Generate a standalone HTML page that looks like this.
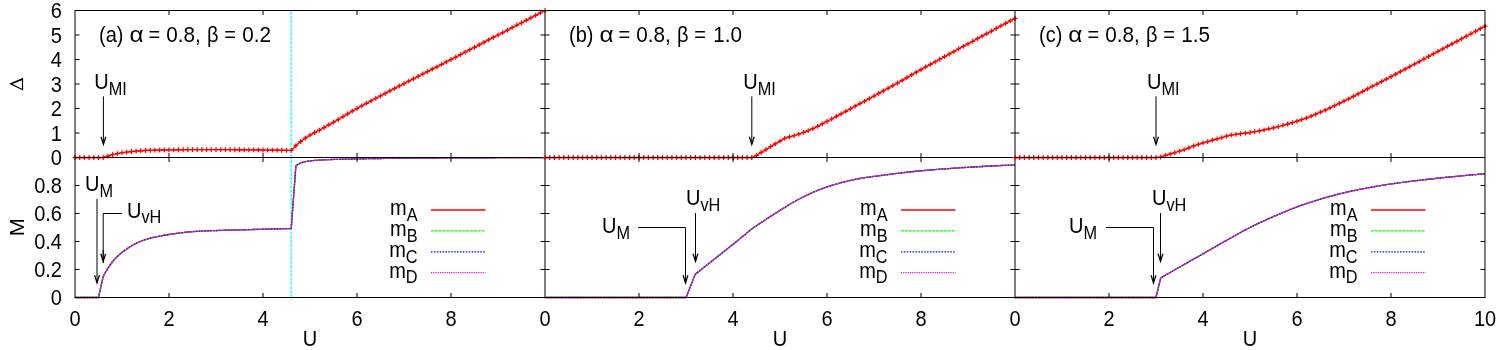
<!DOCTYPE html>
<html><head><meta charset="utf-8"><title>chart</title><style>html,body{margin:0;padding:0;background:#fff}body{width:1500px;height:350px;overflow:hidden}</style></head><body>
<svg width="1500" height="350" viewBox="0 0 1500 350" style="display:block">
<rect width="1500" height="350" fill="#fff"/>
<g font-family="'Liberation Sans', sans-serif" font-size="20" fill="#000" style="will-change:transform">
<line x1="291.20" y1="157.5" x2="291.20" y2="10.5" stroke="#00ffff" stroke-width="1.3" stroke-dasharray="2.9,1.3"/>
<polyline points="75.00,157.50 79.70,157.50 84.40,157.50 89.10,157.50 93.80,157.50 98.50,157.50 103.20,157.50 107.90,156.03 112.60,154.71 117.30,153.70 122.00,152.70 126.70,152.11 131.40,151.50 136.10,151.13 140.80,150.77 145.50,150.49 150.20,150.33 154.90,150.19 159.60,150.07 164.30,149.98 169.00,149.91 173.70,149.84 178.40,149.77 183.10,149.71 187.80,149.67 192.50,149.66 197.20,149.66 201.90,149.66 206.60,149.66 211.30,149.66 216.00,149.66 220.70,149.67 225.40,149.68 230.10,149.70 234.80,149.74 239.50,149.77 244.20,149.82 248.90,149.86 253.60,149.91 258.30,149.96 263.00,150.00 267.70,150.05 272.40,150.11 277.10,150.18 281.80,150.25 286.50,150.32 291.20,150.40 295.90,145.74 300.60,141.57 305.30,138.15 310.00,135.20 314.70,132.51 319.40,130.06 324.10,127.50 328.80,124.88 333.50,122.22 338.20,119.50 342.90,116.72 347.60,113.93 352.30,111.18 357.00,108.50 361.70,105.90 366.40,103.33 371.10,100.79 375.80,98.27 380.50,95.78 385.20,93.31 389.90,90.85 394.60,88.42 399.30,85.99 404.00,83.58 408.70,81.18 413.40,78.78 418.10,76.38 422.80,73.99 427.50,71.59 432.20,69.19 436.90,66.79 441.60,64.37 446.30,61.94 451.00,59.50 455.70,57.05 460.40,54.60 465.10,52.15 469.80,49.70 474.50,47.25 479.20,44.80 483.90,42.35 488.60,39.90 493.30,37.45 498.00,35.00 502.70,32.55 507.40,30.10 512.10,27.65 516.80,25.20 521.50,22.75 526.20,20.30 530.90,17.85 535.60,15.40 540.30,12.95 545.00,10.50" fill="none" stroke="#ff0000" stroke-width="1.35" stroke-linejoin="round"/>
<path d="M75.00 155.10v4.8M72.60 157.50h4.8M79.70 155.10v4.8M77.30 157.50h4.8M84.40 155.10v4.8M82.00 157.50h4.8M89.10 155.10v4.8M86.70 157.50h4.8M93.80 155.10v4.8M91.40 157.50h4.8M98.50 155.10v4.8M96.10 157.50h4.8M103.20 155.10v4.8M100.80 157.50h4.8M107.90 153.63v4.8M105.50 156.03h4.8M112.60 152.31v4.8M110.20 154.71h4.8M117.30 151.30v4.8M114.90 153.70h4.8M122.00 150.30v4.8M119.60 152.70h4.8M126.70 149.71v4.8M124.30 152.11h4.8M131.40 149.10v4.8M129.00 151.50h4.8M136.10 148.73v4.8M133.70 151.13h4.8M140.80 148.37v4.8M138.40 150.77h4.8M145.50 148.09v4.8M143.10 150.49h4.8M150.20 147.93v4.8M147.80 150.33h4.8M154.90 147.79v4.8M152.50 150.19h4.8M159.60 147.67v4.8M157.20 150.07h4.8M164.30 147.58v4.8M161.90 149.98h4.8M169.00 147.50v4.8M166.60 149.91h4.8M173.70 147.44v4.8M171.30 149.84h4.8M178.40 147.37v4.8M176.00 149.77h4.8M183.10 147.31v4.8M180.70 149.71h4.8M187.80 147.27v4.8M185.40 149.67h4.8M192.50 147.26v4.8M190.10 149.66h4.8M197.20 147.26v4.8M194.80 149.66h4.8M201.90 147.26v4.8M199.50 149.66h4.8M206.60 147.26v4.8M204.20 149.66h4.8M211.30 147.26v4.8M208.90 149.66h4.8M216.00 147.26v4.8M213.60 149.66h4.8M220.70 147.27v4.8M218.30 149.67h4.8M225.40 147.28v4.8M223.00 149.68h4.8M230.10 147.30v4.8M227.70 149.70h4.8M234.80 147.34v4.8M232.40 149.74h4.8M239.50 147.37v4.8M237.10 149.77h4.8M244.20 147.42v4.8M241.80 149.82h4.8M248.90 147.46v4.8M246.50 149.86h4.8M253.60 147.51v4.8M251.20 149.91h4.8M258.30 147.56v4.8M255.90 149.96h4.8M263.00 147.60v4.8M260.60 150.00h4.8M267.70 147.65v4.8M265.30 150.05h4.8M272.40 147.71v4.8M270.00 150.11h4.8M277.10 147.78v4.8M274.70 150.18h4.8M281.80 147.85v4.8M279.40 150.25h4.8M286.50 147.92v4.8M284.10 150.32h4.8M291.20 148.00v4.8M288.80 150.40h4.8M295.90 143.34v4.8M293.50 145.74h4.8M300.60 139.17v4.8M298.20 141.57h4.8M305.30 135.75v4.8M302.90 138.15h4.8M310.00 132.80v4.8M307.60 135.20h4.8M314.70 130.11v4.8M312.30 132.51h4.8M319.40 127.66v4.8M317.00 130.06h4.8M324.10 125.10v4.8M321.70 127.50h4.8M328.80 122.48v4.8M326.40 124.88h4.8M333.50 119.82v4.8M331.10 122.22h4.8M338.20 117.10v4.8M335.80 119.50h4.8M342.90 114.32v4.8M340.50 116.72h4.8M347.60 111.53v4.8M345.20 113.93h4.8M352.30 108.78v4.8M349.90 111.18h4.8M357.00 106.10v4.8M354.60 108.50h4.8M361.70 103.50v4.8M359.30 105.90h4.8M366.40 100.93v4.8M364.00 103.33h4.8M371.10 98.39v4.8M368.70 100.79h4.8M375.80 95.87v4.8M373.40 98.27h4.8M380.50 93.38v4.8M378.10 95.78h4.8M385.20 90.91v4.8M382.80 93.31h4.8M389.90 88.45v4.8M387.50 90.85h4.8M394.60 86.02v4.8M392.20 88.42h4.8M399.30 83.59v4.8M396.90 85.99h4.8M404.00 81.18v4.8M401.60 83.58h4.8M408.70 78.78v4.8M406.30 81.18h4.8M413.40 76.38v4.8M411.00 78.78h4.8M418.10 73.98v4.8M415.70 76.38h4.8M422.80 71.59v4.8M420.40 73.99h4.8M427.50 69.19v4.8M425.10 71.59h4.8M432.20 66.79v4.8M429.80 69.19h4.8M436.90 64.39v4.8M434.50 66.79h4.8M441.60 61.97v4.8M439.20 64.37h4.8M446.30 59.54v4.8M443.90 61.94h4.8M451.00 57.10v4.8M448.60 59.50h4.8M455.70 54.65v4.8M453.30 57.05h4.8M460.40 52.20v4.8M458.00 54.60h4.8M465.10 49.75v4.8M462.70 52.15h4.8M469.80 47.30v4.8M467.40 49.70h4.8M474.50 44.85v4.8M472.10 47.25h4.8M479.20 42.40v4.8M476.80 44.80h4.8M483.90 39.95v4.8M481.50 42.35h4.8M488.60 37.50v4.8M486.20 39.90h4.8M493.30 35.05v4.8M490.90 37.45h4.8M498.00 32.60v4.8M495.60 35.00h4.8M502.70 30.15v4.8M500.30 32.55h4.8M507.40 27.70v4.8M505.00 30.10h4.8M512.10 25.25v4.8M509.70 27.65h4.8M516.80 22.80v4.8M514.40 25.20h4.8M521.50 20.35v4.8M519.10 22.75h4.8M526.20 17.90v4.8M523.80 20.30h4.8M530.90 15.45v4.8M528.50 17.85h4.8M535.60 13.00v4.8M533.20 15.40h4.8M540.30 10.55v4.8M537.90 12.95h4.8M545.00 8.10v4.8M542.60 10.50h4.8" stroke="#ff0000" stroke-width="1.25" fill="none"/>
<path d="M75.0 133.0h4.5M545.0 133.0h-4.5M75.0 108.5h4.5M545.0 108.5h-4.5M75.0 84.0h4.5M545.0 84.0h-4.5M75.0 59.5h4.5M545.0 59.5h-4.5M75.0 35.0h4.5M545.0 35.0h-4.5M169.00 157.5v-4.5M169.00 10.5v4.5M263.00 157.5v-4.5M263.00 10.5v4.5M357.00 157.5v-4.5M357.00 10.5v4.5M451.00 157.5v-4.5M451.00 10.5v4.5" stroke="#000" stroke-width="1" fill="none"/>
<path d="M74.5 10.5H545.0V157.5M75.0 10.5V157.5" stroke="#000" stroke-width="1" fill="none"/>
<line x1="291.20" y1="297.5" x2="291.20" y2="157.5" stroke="#00ffff" stroke-width="1.3" stroke-dasharray="2.9,1.3"/>
<polyline points="75.00,297.50 79.70,297.50 84.40,297.50 89.10,297.50 93.80,297.50 98.50,297.50 103.20,276.50 107.90,268.10 112.60,261.50 117.30,256.47 122.00,252.37 126.70,248.90 131.40,246.00 136.10,243.44 140.80,241.24 145.50,239.54 150.20,238.22 154.90,237.09 159.60,236.11 164.30,235.26 169.00,234.50 173.70,233.80 178.40,233.13 183.10,232.53 187.80,232.01 192.50,231.60 197.20,231.32 201.90,231.08 206.60,230.88 211.30,230.70 216.00,230.54 220.70,230.40 225.40,230.27 230.10,230.14 234.80,230.01 239.50,229.88 244.20,229.75 248.90,229.62 253.60,229.49 258.30,229.36 263.00,229.24 267.70,229.13 272.40,229.02 277.10,228.91 281.80,228.81 286.50,228.71 291.20,228.62 295.90,165.76 300.60,162.96 305.30,161.70 310.00,160.86 314.70,160.44 319.40,160.10 324.10,159.84 328.80,159.63 333.50,159.46 338.20,159.31 342.90,159.19 347.60,159.08 352.30,158.99 357.00,158.90 361.70,158.81 366.40,158.72 371.10,158.64 375.80,158.56 380.50,158.48 385.20,158.41 389.90,158.34 394.60,158.29 399.30,158.24 404.00,158.20 408.70,158.17 413.40,158.14 418.10,158.11 422.80,158.07 427.50,158.05 432.20,158.02 436.90,157.99 441.60,157.96 446.30,157.94 451.00,157.91 455.70,157.89 460.40,157.86 465.10,157.84 469.80,157.82 474.50,157.80 479.20,157.78 483.90,157.76 488.60,157.74 493.30,157.73 498.00,157.71 502.70,157.70 507.40,157.69 512.10,157.68 516.80,157.67 521.50,157.66 526.20,157.65 530.90,157.65 535.60,157.64 540.30,157.64 545.00,157.64" fill="none" stroke="#ff0000" stroke-width="1.30" stroke-linejoin="round"/>
<polyline points="75.00,297.50 79.70,297.50 84.40,297.50 89.10,297.50 93.80,297.50 98.50,297.50 103.20,276.50 107.90,268.10 112.60,261.50 117.30,256.47 122.00,252.37 126.70,248.90 131.40,246.00 136.10,243.44 140.80,241.24 145.50,239.54 150.20,238.22 154.90,237.09 159.60,236.11 164.30,235.26 169.00,234.50 173.70,233.80 178.40,233.13 183.10,232.53 187.80,232.01 192.50,231.60 197.20,231.32 201.90,231.08 206.60,230.88 211.30,230.70 216.00,230.54 220.70,230.40 225.40,230.27 230.10,230.14 234.80,230.01 239.50,229.88 244.20,229.75 248.90,229.62 253.60,229.49 258.30,229.36 263.00,229.24 267.70,229.13 272.40,229.02 277.10,228.91 281.80,228.81 286.50,228.71 291.20,228.62 295.90,165.76 300.60,162.96 305.30,161.70 310.00,160.86 314.70,160.44 319.40,160.10 324.10,159.84 328.80,159.63 333.50,159.46 338.20,159.31 342.90,159.19 347.60,159.08 352.30,158.99 357.00,158.90 361.70,158.81 366.40,158.72 371.10,158.64 375.80,158.56 380.50,158.48 385.20,158.41 389.90,158.34 394.60,158.29 399.30,158.24 404.00,158.20 408.70,158.17 413.40,158.14 418.10,158.11 422.80,158.07 427.50,158.05 432.20,158.02 436.90,157.99 441.60,157.96 446.30,157.94 451.00,157.91 455.70,157.89 460.40,157.86 465.10,157.84 469.80,157.82 474.50,157.80 479.20,157.78 483.90,157.76 488.60,157.74 493.30,157.73 498.00,157.71 502.70,157.70 507.40,157.69 512.10,157.68 516.80,157.67 521.50,157.66 526.20,157.65 530.90,157.65 535.60,157.64 540.30,157.64 545.00,157.64" fill="none" stroke="#00ff00" stroke-width="1.30" stroke-dasharray="2.9,1.0" stroke-linejoin="round"/>
<polyline points="75.00,297.50 79.70,297.50 84.40,297.50 89.10,297.50 93.80,297.50 98.50,297.50 103.20,276.50 107.90,268.10 112.60,261.50 117.30,256.47 122.00,252.37 126.70,248.90 131.40,246.00 136.10,243.44 140.80,241.24 145.50,239.54 150.20,238.22 154.90,237.09 159.60,236.11 164.30,235.26 169.00,234.50 173.70,233.80 178.40,233.13 183.10,232.53 187.80,232.01 192.50,231.60 197.20,231.32 201.90,231.08 206.60,230.88 211.30,230.70 216.00,230.54 220.70,230.40 225.40,230.27 230.10,230.14 234.80,230.01 239.50,229.88 244.20,229.75 248.90,229.62 253.60,229.49 258.30,229.36 263.00,229.24 267.70,229.13 272.40,229.02 277.10,228.91 281.80,228.81 286.50,228.71 291.20,228.62 295.90,165.76 300.60,162.96 305.30,161.70 310.00,160.86 314.70,160.44 319.40,160.10 324.10,159.84 328.80,159.63 333.50,159.46 338.20,159.31 342.90,159.19 347.60,159.08 352.30,158.99 357.00,158.90 361.70,158.81 366.40,158.72 371.10,158.64 375.80,158.56 380.50,158.48 385.20,158.41 389.90,158.34 394.60,158.29 399.30,158.24 404.00,158.20 408.70,158.17 413.40,158.14 418.10,158.11 422.80,158.07 427.50,158.05 432.20,158.02 436.90,157.99 441.60,157.96 446.30,157.94 451.00,157.91 455.70,157.89 460.40,157.86 465.10,157.84 469.80,157.82 474.50,157.80 479.20,157.78 483.90,157.76 488.60,157.74 493.30,157.73 498.00,157.71 502.70,157.70 507.40,157.69 512.10,157.68 516.80,157.67 521.50,157.66 526.20,157.65 530.90,157.65 535.60,157.64 540.30,157.64 545.00,157.64" fill="none" stroke="#0000ff" stroke-width="1.30" stroke-dasharray="1.5,1.4" stroke-linejoin="round"/>
<polyline points="75.00,297.50 79.70,297.50 84.40,297.50 89.10,297.50 93.80,297.50 98.50,297.50 103.20,276.50 107.90,268.10 112.60,261.50 117.30,256.47 122.00,252.37 126.70,248.90 131.40,246.00 136.10,243.44 140.80,241.24 145.50,239.54 150.20,238.22 154.90,237.09 159.60,236.11 164.30,235.26 169.00,234.50 173.70,233.80 178.40,233.13 183.10,232.53 187.80,232.01 192.50,231.60 197.20,231.32 201.90,231.08 206.60,230.88 211.30,230.70 216.00,230.54 220.70,230.40 225.40,230.27 230.10,230.14 234.80,230.01 239.50,229.88 244.20,229.75 248.90,229.62 253.60,229.49 258.30,229.36 263.00,229.24 267.70,229.13 272.40,229.02 277.10,228.91 281.80,228.81 286.50,228.71 291.20,228.62 295.90,165.76 300.60,162.96 305.30,161.70 310.00,160.86 314.70,160.44 319.40,160.10 324.10,159.84 328.80,159.63 333.50,159.46 338.20,159.31 342.90,159.19 347.60,159.08 352.30,158.99 357.00,158.90 361.70,158.81 366.40,158.72 371.10,158.64 375.80,158.56 380.50,158.48 385.20,158.41 389.90,158.34 394.60,158.29 399.30,158.24 404.00,158.20 408.70,158.17 413.40,158.14 418.10,158.11 422.80,158.07 427.50,158.05 432.20,158.02 436.90,157.99 441.60,157.96 446.30,157.94 451.00,157.91 455.70,157.89 460.40,157.86 465.10,157.84 469.80,157.82 474.50,157.80 479.20,157.78 483.90,157.76 488.60,157.74 493.30,157.73 498.00,157.71 502.70,157.70 507.40,157.69 512.10,157.68 516.80,157.67 521.50,157.66 526.20,157.65 530.90,157.65 535.60,157.64 540.30,157.64 545.00,157.64" fill="none" stroke="#ff00ff" stroke-width="1.30" stroke-dasharray="1,0.8" stroke-linejoin="round"/>
<line x1="431.0" y1="210.0" x2="485.5" y2="210.0" stroke="#ff0000" stroke-width="1.30"/>
<line x1="431.0" y1="230.9" x2="485.5" y2="230.9" stroke="#00ff00" stroke-width="1.30" stroke-dasharray="2.9,1.0"/>
<line x1="431.0" y1="251.8" x2="485.5" y2="251.8" stroke="#0000ff" stroke-width="1.30" stroke-dasharray="1.5,1.4"/>
<line x1="431.0" y1="272.6" x2="485.5" y2="272.6" stroke="#ff00ff" stroke-width="1.30" stroke-dasharray="1,0.8"/>
<path d="M75.0 269.5h4.5M545.0 269.5h-4.5M75.0 241.5h4.5M545.0 241.5h-4.5M75.0 213.5h4.5M545.0 213.5h-4.5M75.0 185.5h4.5M545.0 185.5h-4.5M169.00 297.5v-4.5M169.00 157.5v4.5M263.00 297.5v-4.5M263.00 157.5v4.5M357.00 297.5v-4.5M357.00 157.5v4.5M451.00 297.5v-4.5M451.00 157.5v4.5" stroke="#000" stroke-width="1" fill="none"/>
<path d="M74.5 157.5H545.0M74.5 297.5H545.0M545.0 157.5V297.5M75.0 157.5V297.5" stroke="#000" stroke-width="1" fill="none"/>
<polyline points="545.00,157.50 549.70,157.50 554.40,157.50 559.10,157.50 563.80,157.50 568.50,157.50 573.20,157.50 577.90,157.50 582.60,157.50 587.30,157.50 592.00,157.50 596.70,157.50 601.40,157.50 606.10,157.50 610.80,157.50 615.50,157.50 620.20,157.50 624.90,157.50 629.60,157.50 634.30,157.50 639.00,157.50 643.70,157.50 648.40,157.50 653.10,157.50 657.80,157.50 662.50,157.50 667.20,157.50 671.90,157.50 676.60,157.50 681.30,157.50 686.00,157.50 690.70,157.50 695.40,157.50 700.10,157.50 704.80,157.50 709.50,157.50 714.20,157.50 718.90,157.50 723.60,157.50 728.30,157.50 733.00,157.50 737.70,157.50 742.40,157.50 747.10,157.50 751.80,157.50 756.50,155.29 761.20,152.48 765.90,149.66 770.60,146.72 775.30,143.90 780.00,141.09 784.70,138.39 789.40,136.92 794.10,135.57 798.80,134.03 803.50,132.39 808.20,130.55 812.90,128.59 817.60,126.39 822.30,123.94 827.00,121.48 831.70,118.98 836.40,116.43 841.10,113.87 845.80,111.30 850.50,108.75 855.20,106.20 859.90,103.66 864.60,101.12 869.30,98.57 874.00,96.00 878.70,93.43 883.40,90.85 888.10,88.26 892.80,85.65 897.50,83.02 902.20,80.35 906.90,77.64 911.60,74.92 916.30,72.21 921.00,69.55 925.70,66.93 930.40,64.35 935.10,61.78 939.80,59.23 944.50,56.67 949.20,54.11 953.90,51.54 958.60,48.96 963.30,46.39 968.00,43.82 972.70,41.26 977.40,38.70 982.10,36.14 986.80,33.59 991.50,31.04 996.20,28.49 1000.90,25.95 1005.60,23.41 1010.30,20.87 1015.00,18.34" fill="none" stroke="#ff0000" stroke-width="1.35" stroke-linejoin="round"/>
<path d="M545.00 155.10v4.8M542.60 157.50h4.8M549.70 155.10v4.8M547.30 157.50h4.8M554.40 155.10v4.8M552.00 157.50h4.8M559.10 155.10v4.8M556.70 157.50h4.8M563.80 155.10v4.8M561.40 157.50h4.8M568.50 155.10v4.8M566.10 157.50h4.8M573.20 155.10v4.8M570.80 157.50h4.8M577.90 155.10v4.8M575.50 157.50h4.8M582.60 155.10v4.8M580.20 157.50h4.8M587.30 155.10v4.8M584.90 157.50h4.8M592.00 155.10v4.8M589.60 157.50h4.8M596.70 155.10v4.8M594.30 157.50h4.8M601.40 155.10v4.8M599.00 157.50h4.8M606.10 155.10v4.8M603.70 157.50h4.8M610.80 155.10v4.8M608.40 157.50h4.8M615.50 155.10v4.8M613.10 157.50h4.8M620.20 155.10v4.8M617.80 157.50h4.8M624.90 155.10v4.8M622.50 157.50h4.8M629.60 155.10v4.8M627.20 157.50h4.8M634.30 155.10v4.8M631.90 157.50h4.8M639.00 155.10v4.8M636.60 157.50h4.8M643.70 155.10v4.8M641.30 157.50h4.8M648.40 155.10v4.8M646.00 157.50h4.8M653.10 155.10v4.8M650.70 157.50h4.8M657.80 155.10v4.8M655.40 157.50h4.8M662.50 155.10v4.8M660.10 157.50h4.8M667.20 155.10v4.8M664.80 157.50h4.8M671.90 155.10v4.8M669.50 157.50h4.8M676.60 155.10v4.8M674.20 157.50h4.8M681.30 155.10v4.8M678.90 157.50h4.8M686.00 155.10v4.8M683.60 157.50h4.8M690.70 155.10v4.8M688.30 157.50h4.8M695.40 155.10v4.8M693.00 157.50h4.8M700.10 155.10v4.8M697.70 157.50h4.8M704.80 155.10v4.8M702.40 157.50h4.8M709.50 155.10v4.8M707.10 157.50h4.8M714.20 155.10v4.8M711.80 157.50h4.8M718.90 155.10v4.8M716.50 157.50h4.8M723.60 155.10v4.8M721.20 157.50h4.8M728.30 155.10v4.8M725.90 157.50h4.8M733.00 155.10v4.8M730.60 157.50h4.8M737.70 155.10v4.8M735.30 157.50h4.8M742.40 155.10v4.8M740.00 157.50h4.8M747.10 155.10v4.8M744.70 157.50h4.8M751.80 155.10v4.8M749.40 157.50h4.8M756.50 152.89v4.8M754.10 155.29h4.8M761.20 150.08v4.8M758.80 152.48h4.8M765.90 147.26v4.8M763.50 149.66h4.8M770.60 144.32v4.8M768.20 146.72h4.8M775.30 141.50v4.8M772.90 143.90h4.8M780.00 138.69v4.8M777.60 141.09h4.8M784.70 135.99v4.8M782.30 138.39h4.8M789.40 134.52v4.8M787.00 136.92h4.8M794.10 133.17v4.8M791.70 135.57h4.8M798.80 131.63v4.8M796.40 134.03h4.8M803.50 129.99v4.8M801.10 132.39h4.8M808.20 128.15v4.8M805.80 130.55h4.8M812.90 126.19v4.8M810.50 128.59h4.8M817.60 123.98v4.8M815.20 126.39h4.8M822.30 121.53v4.8M819.90 123.94h4.8M827.00 119.08v4.8M824.60 121.48h4.8M831.70 116.58v4.8M829.30 118.98h4.8M836.40 114.03v4.8M834.00 116.43h4.8M841.10 111.47v4.8M838.70 113.87h4.8M845.80 108.90v4.8M843.40 111.30h4.8M850.50 106.34v4.8M848.10 108.75h4.8M855.20 103.80v4.8M852.80 106.20h4.8M859.90 101.26v4.8M857.50 103.66h4.8M864.60 98.72v4.8M862.20 101.12h4.8M869.30 96.17v4.8M866.90 98.57h4.8M874.00 93.60v4.8M871.60 96.00h4.8M878.70 91.03v4.8M876.30 93.43h4.8M883.40 88.45v4.8M881.00 90.85h4.8M888.10 85.86v4.8M885.70 88.26h4.8M892.80 83.25v4.8M890.40 85.65h4.8M897.50 80.62v4.8M895.10 83.02h4.8M902.20 77.95v4.8M899.80 80.35h4.8M906.90 75.24v4.8M904.50 77.64h4.8M911.60 72.52v4.8M909.20 74.92h4.8M916.30 69.81v4.8M913.90 72.21h4.8M921.00 67.14v4.8M918.60 69.55h4.8M925.70 64.53v4.8M923.30 66.93h4.8M930.40 61.95v4.8M928.00 64.35h4.8M935.10 59.38v4.8M932.70 61.78h4.8M939.80 56.83v4.8M937.40 59.23h4.8M944.50 54.27v4.8M942.10 56.67h4.8M949.20 51.71v4.8M946.80 54.11h4.8M953.90 49.14v4.8M951.50 51.54h4.8M958.60 46.56v4.8M956.20 48.96h4.8M963.30 43.99v4.8M960.90 46.39h4.8M968.00 41.42v4.8M965.60 43.82h4.8M972.70 38.86v4.8M970.30 41.26h4.8M977.40 36.30v4.8M975.00 38.70h4.8M982.10 33.74v4.8M979.70 36.14h4.8M986.80 31.19v4.8M984.40 33.59h4.8M991.50 28.64v4.8M989.10 31.04h4.8M996.20 26.09v4.8M993.80 28.49h4.8M1000.90 23.55v4.8M998.50 25.95h4.8M1005.60 21.01v4.8M1003.20 23.41h4.8M1010.30 18.47v4.8M1007.90 20.87h4.8M1015.00 15.94v4.8M1012.60 18.34h4.8" stroke="#ff0000" stroke-width="1.25" fill="none"/>
<path d="M545.0 133.0h4.5M1015.0 133.0h-4.5M545.0 108.5h4.5M1015.0 108.5h-4.5M545.0 84.0h4.5M1015.0 84.0h-4.5M545.0 59.5h4.5M1015.0 59.5h-4.5M545.0 35.0h4.5M1015.0 35.0h-4.5M639.00 157.5v-4.5M639.00 10.5v4.5M733.00 157.5v-4.5M733.00 10.5v4.5M827.00 157.5v-4.5M827.00 10.5v4.5M921.00 157.5v-4.5M921.00 10.5v4.5" stroke="#000" stroke-width="1" fill="none"/>
<path d="M545.0 10.5H1015.0V157.5" stroke="#000" stroke-width="1" fill="none"/>
<polyline points="545.00,297.50 549.70,297.50 554.40,297.50 559.10,297.50 563.80,297.50 568.50,297.50 573.20,297.50 577.90,297.50 582.60,297.50 587.30,297.50 592.00,297.50 596.70,297.50 601.40,297.50 606.10,297.50 610.80,297.50 615.50,297.50 620.20,297.50 624.90,297.50 629.60,297.50 634.30,297.50 639.00,297.50 643.70,297.50 648.40,297.50 653.10,297.50 657.80,297.50 662.50,297.50 667.20,297.50 671.90,297.50 676.60,297.50 681.30,297.50 686.00,297.50 690.70,285.81 695.40,274.12 700.10,270.38 704.80,266.65 709.50,262.92 714.20,259.20 718.90,255.50 723.60,251.79 728.30,248.06 733.00,244.30 737.70,240.50 742.40,236.66 747.10,232.79 751.80,228.90 756.50,225.70 761.20,222.55 765.90,219.45 770.60,216.39 775.30,213.38 780.00,210.42 784.70,207.44 789.40,204.50 794.10,201.73 798.80,199.23 803.50,196.85 808.20,194.57 812.90,192.40 817.60,190.38 822.30,188.54 827.00,186.90 831.70,185.42 836.40,184.02 841.10,182.73 845.80,181.52 850.50,180.41 855.20,179.41 859.90,178.50 864.60,177.72 869.30,177.04 874.00,176.40 878.70,175.77 883.40,175.14 888.10,174.53 892.80,173.93 897.50,173.34 902.20,172.78 906.90,172.24 911.60,171.73 916.30,171.25 921.00,170.80 925.70,170.38 930.40,169.98 935.10,169.59 939.80,169.22 944.50,168.87 949.20,168.53 953.90,168.20 958.60,167.89 963.30,167.59 968.00,167.30 972.70,167.02 977.40,166.75 982.10,166.48 986.80,166.23 991.50,165.98 996.20,165.75 1000.90,165.52 1005.60,165.31 1010.30,165.11 1015.00,164.92" fill="none" stroke="#ff0000" stroke-width="1.30" stroke-linejoin="round"/>
<polyline points="545.00,297.50 549.70,297.50 554.40,297.50 559.10,297.50 563.80,297.50 568.50,297.50 573.20,297.50 577.90,297.50 582.60,297.50 587.30,297.50 592.00,297.50 596.70,297.50 601.40,297.50 606.10,297.50 610.80,297.50 615.50,297.50 620.20,297.50 624.90,297.50 629.60,297.50 634.30,297.50 639.00,297.50 643.70,297.50 648.40,297.50 653.10,297.50 657.80,297.50 662.50,297.50 667.20,297.50 671.90,297.50 676.60,297.50 681.30,297.50 686.00,297.50 690.70,285.81 695.40,274.12 700.10,270.38 704.80,266.65 709.50,262.92 714.20,259.20 718.90,255.50 723.60,251.79 728.30,248.06 733.00,244.30 737.70,240.50 742.40,236.66 747.10,232.79 751.80,228.90 756.50,225.70 761.20,222.55 765.90,219.45 770.60,216.39 775.30,213.38 780.00,210.42 784.70,207.44 789.40,204.50 794.10,201.73 798.80,199.23 803.50,196.85 808.20,194.57 812.90,192.40 817.60,190.38 822.30,188.54 827.00,186.90 831.70,185.42 836.40,184.02 841.10,182.73 845.80,181.52 850.50,180.41 855.20,179.41 859.90,178.50 864.60,177.72 869.30,177.04 874.00,176.40 878.70,175.77 883.40,175.14 888.10,174.53 892.80,173.93 897.50,173.34 902.20,172.78 906.90,172.24 911.60,171.73 916.30,171.25 921.00,170.80 925.70,170.38 930.40,169.98 935.10,169.59 939.80,169.22 944.50,168.87 949.20,168.53 953.90,168.20 958.60,167.89 963.30,167.59 968.00,167.30 972.70,167.02 977.40,166.75 982.10,166.48 986.80,166.23 991.50,165.98 996.20,165.75 1000.90,165.52 1005.60,165.31 1010.30,165.11 1015.00,164.92" fill="none" stroke="#00ff00" stroke-width="1.30" stroke-dasharray="2.9,1.0" stroke-linejoin="round"/>
<polyline points="545.00,297.50 549.70,297.50 554.40,297.50 559.10,297.50 563.80,297.50 568.50,297.50 573.20,297.50 577.90,297.50 582.60,297.50 587.30,297.50 592.00,297.50 596.70,297.50 601.40,297.50 606.10,297.50 610.80,297.50 615.50,297.50 620.20,297.50 624.90,297.50 629.60,297.50 634.30,297.50 639.00,297.50 643.70,297.50 648.40,297.50 653.10,297.50 657.80,297.50 662.50,297.50 667.20,297.50 671.90,297.50 676.60,297.50 681.30,297.50 686.00,297.50 690.70,285.81 695.40,274.12 700.10,270.38 704.80,266.65 709.50,262.92 714.20,259.20 718.90,255.50 723.60,251.79 728.30,248.06 733.00,244.30 737.70,240.50 742.40,236.66 747.10,232.79 751.80,228.90 756.50,225.70 761.20,222.55 765.90,219.45 770.60,216.39 775.30,213.38 780.00,210.42 784.70,207.44 789.40,204.50 794.10,201.73 798.80,199.23 803.50,196.85 808.20,194.57 812.90,192.40 817.60,190.38 822.30,188.54 827.00,186.90 831.70,185.42 836.40,184.02 841.10,182.73 845.80,181.52 850.50,180.41 855.20,179.41 859.90,178.50 864.60,177.72 869.30,177.04 874.00,176.40 878.70,175.77 883.40,175.14 888.10,174.53 892.80,173.93 897.50,173.34 902.20,172.78 906.90,172.24 911.60,171.73 916.30,171.25 921.00,170.80 925.70,170.38 930.40,169.98 935.10,169.59 939.80,169.22 944.50,168.87 949.20,168.53 953.90,168.20 958.60,167.89 963.30,167.59 968.00,167.30 972.70,167.02 977.40,166.75 982.10,166.48 986.80,166.23 991.50,165.98 996.20,165.75 1000.90,165.52 1005.60,165.31 1010.30,165.11 1015.00,164.92" fill="none" stroke="#0000ff" stroke-width="1.30" stroke-dasharray="1.5,1.4" stroke-linejoin="round"/>
<polyline points="545.00,297.50 549.70,297.50 554.40,297.50 559.10,297.50 563.80,297.50 568.50,297.50 573.20,297.50 577.90,297.50 582.60,297.50 587.30,297.50 592.00,297.50 596.70,297.50 601.40,297.50 606.10,297.50 610.80,297.50 615.50,297.50 620.20,297.50 624.90,297.50 629.60,297.50 634.30,297.50 639.00,297.50 643.70,297.50 648.40,297.50 653.10,297.50 657.80,297.50 662.50,297.50 667.20,297.50 671.90,297.50 676.60,297.50 681.30,297.50 686.00,297.50 690.70,285.81 695.40,274.12 700.10,270.38 704.80,266.65 709.50,262.92 714.20,259.20 718.90,255.50 723.60,251.79 728.30,248.06 733.00,244.30 737.70,240.50 742.40,236.66 747.10,232.79 751.80,228.90 756.50,225.70 761.20,222.55 765.90,219.45 770.60,216.39 775.30,213.38 780.00,210.42 784.70,207.44 789.40,204.50 794.10,201.73 798.80,199.23 803.50,196.85 808.20,194.57 812.90,192.40 817.60,190.38 822.30,188.54 827.00,186.90 831.70,185.42 836.40,184.02 841.10,182.73 845.80,181.52 850.50,180.41 855.20,179.41 859.90,178.50 864.60,177.72 869.30,177.04 874.00,176.40 878.70,175.77 883.40,175.14 888.10,174.53 892.80,173.93 897.50,173.34 902.20,172.78 906.90,172.24 911.60,171.73 916.30,171.25 921.00,170.80 925.70,170.38 930.40,169.98 935.10,169.59 939.80,169.22 944.50,168.87 949.20,168.53 953.90,168.20 958.60,167.89 963.30,167.59 968.00,167.30 972.70,167.02 977.40,166.75 982.10,166.48 986.80,166.23 991.50,165.98 996.20,165.75 1000.90,165.52 1005.60,165.31 1010.30,165.11 1015.00,164.92" fill="none" stroke="#ff00ff" stroke-width="1.30" stroke-dasharray="1,0.8" stroke-linejoin="round"/>
<line x1="901.0" y1="210.0" x2="955.5" y2="210.0" stroke="#ff0000" stroke-width="1.30"/>
<line x1="901.0" y1="230.9" x2="955.5" y2="230.9" stroke="#00ff00" stroke-width="1.30" stroke-dasharray="2.9,1.0"/>
<line x1="901.0" y1="251.8" x2="955.5" y2="251.8" stroke="#0000ff" stroke-width="1.30" stroke-dasharray="1.5,1.4"/>
<line x1="901.0" y1="272.6" x2="955.5" y2="272.6" stroke="#ff00ff" stroke-width="1.30" stroke-dasharray="1,0.8"/>
<path d="M545.0 269.5h4.5M1015.0 269.5h-4.5M545.0 241.5h4.5M1015.0 241.5h-4.5M545.0 213.5h4.5M1015.0 213.5h-4.5M545.0 185.5h4.5M1015.0 185.5h-4.5M639.00 297.5v-4.5M639.00 157.5v4.5M733.00 297.5v-4.5M733.00 157.5v4.5M827.00 297.5v-4.5M827.00 157.5v4.5M921.00 297.5v-4.5M921.00 157.5v4.5" stroke="#000" stroke-width="1" fill="none"/>
<path d="M545.0 157.5H1015.0M545.0 297.5H1015.0M1015.0 157.5V297.5" stroke="#000" stroke-width="1" fill="none"/>
<polyline points="1015.00,157.50 1019.70,157.50 1024.40,157.50 1029.10,157.50 1033.80,157.50 1038.50,157.50 1043.20,157.50 1047.90,157.50 1052.60,157.50 1057.30,157.50 1062.00,157.50 1066.70,157.50 1071.40,157.50 1076.10,157.50 1080.80,157.50 1085.50,157.50 1090.20,157.50 1094.90,157.50 1099.60,157.50 1104.30,157.50 1109.00,157.50 1113.70,157.50 1118.40,157.50 1123.10,157.50 1127.80,157.50 1132.50,157.50 1137.20,157.50 1141.90,157.50 1146.60,157.50 1151.30,157.50 1156.00,157.50 1160.70,157.01 1165.40,155.42 1170.10,154.07 1174.80,152.60 1179.50,151.13 1184.20,149.54 1188.90,147.82 1193.60,145.99 1198.30,144.39 1203.00,142.92 1207.70,141.57 1212.40,140.23 1217.10,138.88 1221.80,137.53 1226.50,136.19 1231.20,135.08 1235.90,134.32 1240.60,133.74 1245.30,133.15 1250.00,132.51 1254.70,131.70 1259.40,130.79 1264.10,129.87 1268.80,128.91 1273.50,127.86 1278.20,126.66 1282.90,125.35 1287.60,124.01 1292.30,122.66 1297.00,121.24 1301.70,119.71 1306.40,118.06 1311.10,116.21 1315.80,114.23 1320.50,112.18 1325.20,110.08 1329.90,107.92 1334.60,105.71 1339.30,103.45 1344.00,101.15 1348.70,98.78 1353.40,96.34 1358.10,93.86 1362.80,91.37 1367.50,88.90 1372.20,86.46 1376.90,84.02 1381.60,81.57 1386.30,79.12 1391.00,76.65 1395.70,74.16 1400.40,71.66 1405.10,69.14 1409.80,66.62 1414.50,64.08 1419.20,61.55 1423.90,59.01 1428.60,56.48 1433.30,53.94 1438.00,51.42 1442.70,48.89 1447.40,46.37 1452.10,43.84 1456.80,41.32 1461.50,38.80 1466.20,36.27 1470.90,33.75 1475.60,31.23 1480.30,28.70 1485.00,26.18" fill="none" stroke="#ff0000" stroke-width="1.35" stroke-linejoin="round"/>
<path d="M1015.00 155.10v4.8M1012.60 157.50h4.8M1019.70 155.10v4.8M1017.30 157.50h4.8M1024.40 155.10v4.8M1022.00 157.50h4.8M1029.10 155.10v4.8M1026.70 157.50h4.8M1033.80 155.10v4.8M1031.40 157.50h4.8M1038.50 155.10v4.8M1036.10 157.50h4.8M1043.20 155.10v4.8M1040.80 157.50h4.8M1047.90 155.10v4.8M1045.50 157.50h4.8M1052.60 155.10v4.8M1050.20 157.50h4.8M1057.30 155.10v4.8M1054.90 157.50h4.8M1062.00 155.10v4.8M1059.60 157.50h4.8M1066.70 155.10v4.8M1064.30 157.50h4.8M1071.40 155.10v4.8M1069.00 157.50h4.8M1076.10 155.10v4.8M1073.70 157.50h4.8M1080.80 155.10v4.8M1078.40 157.50h4.8M1085.50 155.10v4.8M1083.10 157.50h4.8M1090.20 155.10v4.8M1087.80 157.50h4.8M1094.90 155.10v4.8M1092.50 157.50h4.8M1099.60 155.10v4.8M1097.20 157.50h4.8M1104.30 155.10v4.8M1101.90 157.50h4.8M1109.00 155.10v4.8M1106.60 157.50h4.8M1113.70 155.10v4.8M1111.30 157.50h4.8M1118.40 155.10v4.8M1116.00 157.50h4.8M1123.10 155.10v4.8M1120.70 157.50h4.8M1127.80 155.10v4.8M1125.40 157.50h4.8M1132.50 155.10v4.8M1130.10 157.50h4.8M1137.20 155.10v4.8M1134.80 157.50h4.8M1141.90 155.10v4.8M1139.50 157.50h4.8M1146.60 155.10v4.8M1144.20 157.50h4.8M1151.30 155.10v4.8M1148.90 157.50h4.8M1156.00 155.10v4.8M1153.60 157.50h4.8M1160.70 154.61v4.8M1158.30 157.01h4.8M1165.40 153.02v4.8M1163.00 155.42h4.8M1170.10 151.67v4.8M1167.70 154.07h4.8M1174.80 150.20v4.8M1172.40 152.60h4.8M1179.50 148.73v4.8M1177.10 151.13h4.8M1184.20 147.14v4.8M1181.80 149.54h4.8M1188.90 145.42v4.8M1186.50 147.82h4.8M1193.60 143.59v4.8M1191.20 145.99h4.8M1198.30 141.99v4.8M1195.90 144.39h4.8M1203.00 140.52v4.8M1200.60 142.92h4.8M1207.70 139.17v4.8M1205.30 141.57h4.8M1212.40 137.83v4.8M1210.00 140.23h4.8M1217.10 136.48v4.8M1214.70 138.88h4.8M1221.80 135.13v4.8M1219.40 137.53h4.8M1226.50 133.78v4.8M1224.10 136.19h4.8M1231.20 132.68v4.8M1228.80 135.08h4.8M1235.90 131.92v4.8M1233.50 134.32h4.8M1240.60 131.34v4.8M1238.20 133.74h4.8M1245.30 130.75v4.8M1242.90 133.15h4.8M1250.00 130.11v4.8M1247.60 132.51h4.8M1254.70 129.30v4.8M1252.30 131.70h4.8M1259.40 128.39v4.8M1257.00 130.79h4.8M1264.10 127.47v4.8M1261.70 129.87h4.8M1268.80 126.51v4.8M1266.40 128.91h4.8M1273.50 125.45v4.8M1271.10 127.86h4.8M1278.20 124.26v4.8M1275.80 126.66h4.8M1282.90 122.95v4.8M1280.50 125.35h4.8M1287.60 121.61v4.8M1285.20 124.01h4.8M1292.30 120.26v4.8M1289.90 122.66h4.8M1297.00 118.84v4.8M1294.60 121.24h4.8M1301.70 117.31v4.8M1299.30 119.71h4.8M1306.40 115.66v4.8M1304.00 118.06h4.8M1311.10 113.81v4.8M1308.70 116.21h4.8M1315.80 111.83v4.8M1313.40 114.23h4.8M1320.50 109.78v4.8M1318.10 112.18h4.8M1325.20 107.68v4.8M1322.80 110.08h4.8M1329.90 105.52v4.8M1327.50 107.92h4.8M1334.60 103.31v4.8M1332.20 105.71h4.8M1339.30 101.05v4.8M1336.90 103.45h4.8M1344.00 98.75v4.8M1341.60 101.15h4.8M1348.70 96.38v4.8M1346.30 98.78h4.8M1353.40 93.94v4.8M1351.00 96.34h4.8M1358.10 91.46v4.8M1355.70 93.86h4.8M1362.80 88.97v4.8M1360.40 91.37h4.8M1367.50 86.50v4.8M1365.10 88.90h4.8M1372.20 84.06v4.8M1369.80 86.46h4.8M1376.90 81.62v4.8M1374.50 84.02h4.8M1381.60 79.17v4.8M1379.20 81.57h4.8M1386.30 76.72v4.8M1383.90 79.12h4.8M1391.00 74.25v4.8M1388.60 76.65h4.8M1395.70 71.76v4.8M1393.30 74.16h4.8M1400.40 69.26v4.8M1398.00 71.66h4.8M1405.10 66.74v4.8M1402.70 69.14h4.8M1409.80 64.22v4.8M1407.40 66.62h4.8M1414.50 61.68v4.8M1412.10 64.08h4.8M1419.20 59.15v4.8M1416.80 61.55h4.8M1423.90 56.61v4.8M1421.50 59.01h4.8M1428.60 54.08v4.8M1426.20 56.48h4.8M1433.30 51.54v4.8M1430.90 53.94h4.8M1438.00 49.02v4.8M1435.60 51.42h4.8M1442.70 46.49v4.8M1440.30 48.89h4.8M1447.40 43.97v4.8M1445.00 46.37h4.8M1452.10 41.44v4.8M1449.70 43.84h4.8M1456.80 38.92v4.8M1454.40 41.32h4.8M1461.50 36.40v4.8M1459.10 38.80h4.8M1466.20 33.87v4.8M1463.80 36.27h4.8M1470.90 31.35v4.8M1468.50 33.75h4.8M1475.60 28.83v4.8M1473.20 31.23h4.8M1480.30 26.30v4.8M1477.90 28.70h4.8M1485.00 23.78v4.8M1482.60 26.18h4.8" stroke="#ff0000" stroke-width="1.25" fill="none"/>
<path d="M1015.0 133.0h4.5M1485.0 133.0h-4.5M1015.0 108.5h4.5M1485.0 108.5h-4.5M1015.0 84.0h4.5M1485.0 84.0h-4.5M1015.0 59.5h4.5M1485.0 59.5h-4.5M1015.0 35.0h4.5M1485.0 35.0h-4.5M1109.00 157.5v-4.5M1109.00 10.5v4.5M1203.00 157.5v-4.5M1203.00 10.5v4.5M1297.00 157.5v-4.5M1297.00 10.5v4.5M1391.00 157.5v-4.5M1391.00 10.5v4.5" stroke="#000" stroke-width="1" fill="none"/>
<path d="M1015.0 10.5H1485.0V157.5" stroke="#000" stroke-width="1" fill="none"/>
<polyline points="1015.00,297.50 1019.70,297.50 1024.40,297.50 1029.10,297.50 1033.80,297.50 1038.50,297.50 1043.20,297.50 1047.90,297.50 1052.60,297.50 1057.30,297.50 1062.00,297.50 1066.70,297.50 1071.40,297.50 1076.10,297.50 1080.80,297.50 1085.50,297.50 1090.20,297.50 1094.90,297.50 1099.60,297.50 1104.30,297.50 1109.00,297.50 1113.70,297.50 1118.40,297.50 1123.10,297.50 1127.80,297.50 1132.50,297.50 1137.20,297.50 1141.90,297.50 1146.60,297.50 1151.30,297.50 1156.00,297.50 1160.70,277.90 1165.40,275.19 1170.10,272.49 1174.80,269.80 1179.50,267.12 1184.20,264.45 1188.90,261.79 1193.60,259.14 1198.30,256.49 1203.00,253.82 1207.70,251.13 1212.40,248.43 1217.10,245.72 1221.80,243.03 1226.50,240.38 1231.20,237.73 1235.90,235.09 1240.60,232.47 1245.30,229.93 1250.00,227.50 1254.70,225.18 1259.40,222.94 1264.10,220.77 1268.80,218.65 1273.50,216.58 1278.20,214.54 1282.90,212.53 1287.60,210.58 1292.30,208.70 1297.00,206.92 1301.70,205.22 1306.40,203.58 1311.10,202.01 1315.80,200.51 1320.50,199.08 1325.20,197.71 1329.90,196.39 1334.60,195.12 1339.30,193.92 1344.00,192.78 1348.70,191.70 1353.40,190.68 1358.10,189.70 1362.80,188.77 1367.50,187.88 1372.20,187.02 1376.90,186.20 1381.60,185.41 1386.30,184.66 1391.00,183.96 1395.70,183.30 1400.40,182.66 1405.10,182.05 1409.80,181.45 1414.50,180.88 1419.20,180.32 1423.90,179.77 1428.60,179.25 1433.30,178.73 1438.00,178.22 1442.70,177.72 1447.40,177.23 1452.10,176.76 1456.80,176.29 1461.50,175.83 1466.20,175.39 1470.90,174.96 1475.60,174.54 1480.30,174.13 1485.00,173.74" fill="none" stroke="#ff0000" stroke-width="1.30" stroke-linejoin="round"/>
<polyline points="1015.00,297.50 1019.70,297.50 1024.40,297.50 1029.10,297.50 1033.80,297.50 1038.50,297.50 1043.20,297.50 1047.90,297.50 1052.60,297.50 1057.30,297.50 1062.00,297.50 1066.70,297.50 1071.40,297.50 1076.10,297.50 1080.80,297.50 1085.50,297.50 1090.20,297.50 1094.90,297.50 1099.60,297.50 1104.30,297.50 1109.00,297.50 1113.70,297.50 1118.40,297.50 1123.10,297.50 1127.80,297.50 1132.50,297.50 1137.20,297.50 1141.90,297.50 1146.60,297.50 1151.30,297.50 1156.00,297.50 1160.70,277.90 1165.40,275.19 1170.10,272.49 1174.80,269.80 1179.50,267.12 1184.20,264.45 1188.90,261.79 1193.60,259.14 1198.30,256.49 1203.00,253.82 1207.70,251.13 1212.40,248.43 1217.10,245.72 1221.80,243.03 1226.50,240.38 1231.20,237.73 1235.90,235.09 1240.60,232.47 1245.30,229.93 1250.00,227.50 1254.70,225.18 1259.40,222.94 1264.10,220.77 1268.80,218.65 1273.50,216.58 1278.20,214.54 1282.90,212.53 1287.60,210.58 1292.30,208.70 1297.00,206.92 1301.70,205.22 1306.40,203.58 1311.10,202.01 1315.80,200.51 1320.50,199.08 1325.20,197.71 1329.90,196.39 1334.60,195.12 1339.30,193.92 1344.00,192.78 1348.70,191.70 1353.40,190.68 1358.10,189.70 1362.80,188.77 1367.50,187.88 1372.20,187.02 1376.90,186.20 1381.60,185.41 1386.30,184.66 1391.00,183.96 1395.70,183.30 1400.40,182.66 1405.10,182.05 1409.80,181.45 1414.50,180.88 1419.20,180.32 1423.90,179.77 1428.60,179.25 1433.30,178.73 1438.00,178.22 1442.70,177.72 1447.40,177.23 1452.10,176.76 1456.80,176.29 1461.50,175.83 1466.20,175.39 1470.90,174.96 1475.60,174.54 1480.30,174.13 1485.00,173.74" fill="none" stroke="#00ff00" stroke-width="1.30" stroke-dasharray="2.9,1.0" stroke-linejoin="round"/>
<polyline points="1015.00,297.50 1019.70,297.50 1024.40,297.50 1029.10,297.50 1033.80,297.50 1038.50,297.50 1043.20,297.50 1047.90,297.50 1052.60,297.50 1057.30,297.50 1062.00,297.50 1066.70,297.50 1071.40,297.50 1076.10,297.50 1080.80,297.50 1085.50,297.50 1090.20,297.50 1094.90,297.50 1099.60,297.50 1104.30,297.50 1109.00,297.50 1113.70,297.50 1118.40,297.50 1123.10,297.50 1127.80,297.50 1132.50,297.50 1137.20,297.50 1141.90,297.50 1146.60,297.50 1151.30,297.50 1156.00,297.50 1160.70,277.90 1165.40,275.19 1170.10,272.49 1174.80,269.80 1179.50,267.12 1184.20,264.45 1188.90,261.79 1193.60,259.14 1198.30,256.49 1203.00,253.82 1207.70,251.13 1212.40,248.43 1217.10,245.72 1221.80,243.03 1226.50,240.38 1231.20,237.73 1235.90,235.09 1240.60,232.47 1245.30,229.93 1250.00,227.50 1254.70,225.18 1259.40,222.94 1264.10,220.77 1268.80,218.65 1273.50,216.58 1278.20,214.54 1282.90,212.53 1287.60,210.58 1292.30,208.70 1297.00,206.92 1301.70,205.22 1306.40,203.58 1311.10,202.01 1315.80,200.51 1320.50,199.08 1325.20,197.71 1329.90,196.39 1334.60,195.12 1339.30,193.92 1344.00,192.78 1348.70,191.70 1353.40,190.68 1358.10,189.70 1362.80,188.77 1367.50,187.88 1372.20,187.02 1376.90,186.20 1381.60,185.41 1386.30,184.66 1391.00,183.96 1395.70,183.30 1400.40,182.66 1405.10,182.05 1409.80,181.45 1414.50,180.88 1419.20,180.32 1423.90,179.77 1428.60,179.25 1433.30,178.73 1438.00,178.22 1442.70,177.72 1447.40,177.23 1452.10,176.76 1456.80,176.29 1461.50,175.83 1466.20,175.39 1470.90,174.96 1475.60,174.54 1480.30,174.13 1485.00,173.74" fill="none" stroke="#0000ff" stroke-width="1.30" stroke-dasharray="1.5,1.4" stroke-linejoin="round"/>
<polyline points="1015.00,297.50 1019.70,297.50 1024.40,297.50 1029.10,297.50 1033.80,297.50 1038.50,297.50 1043.20,297.50 1047.90,297.50 1052.60,297.50 1057.30,297.50 1062.00,297.50 1066.70,297.50 1071.40,297.50 1076.10,297.50 1080.80,297.50 1085.50,297.50 1090.20,297.50 1094.90,297.50 1099.60,297.50 1104.30,297.50 1109.00,297.50 1113.70,297.50 1118.40,297.50 1123.10,297.50 1127.80,297.50 1132.50,297.50 1137.20,297.50 1141.90,297.50 1146.60,297.50 1151.30,297.50 1156.00,297.50 1160.70,277.90 1165.40,275.19 1170.10,272.49 1174.80,269.80 1179.50,267.12 1184.20,264.45 1188.90,261.79 1193.60,259.14 1198.30,256.49 1203.00,253.82 1207.70,251.13 1212.40,248.43 1217.10,245.72 1221.80,243.03 1226.50,240.38 1231.20,237.73 1235.90,235.09 1240.60,232.47 1245.30,229.93 1250.00,227.50 1254.70,225.18 1259.40,222.94 1264.10,220.77 1268.80,218.65 1273.50,216.58 1278.20,214.54 1282.90,212.53 1287.60,210.58 1292.30,208.70 1297.00,206.92 1301.70,205.22 1306.40,203.58 1311.10,202.01 1315.80,200.51 1320.50,199.08 1325.20,197.71 1329.90,196.39 1334.60,195.12 1339.30,193.92 1344.00,192.78 1348.70,191.70 1353.40,190.68 1358.10,189.70 1362.80,188.77 1367.50,187.88 1372.20,187.02 1376.90,186.20 1381.60,185.41 1386.30,184.66 1391.00,183.96 1395.70,183.30 1400.40,182.66 1405.10,182.05 1409.80,181.45 1414.50,180.88 1419.20,180.32 1423.90,179.77 1428.60,179.25 1433.30,178.73 1438.00,178.22 1442.70,177.72 1447.40,177.23 1452.10,176.76 1456.80,176.29 1461.50,175.83 1466.20,175.39 1470.90,174.96 1475.60,174.54 1480.30,174.13 1485.00,173.74" fill="none" stroke="#ff00ff" stroke-width="1.30" stroke-dasharray="1,0.8" stroke-linejoin="round"/>
<line x1="1371.0" y1="210.0" x2="1425.5" y2="210.0" stroke="#ff0000" stroke-width="1.30"/>
<line x1="1371.0" y1="230.9" x2="1425.5" y2="230.9" stroke="#00ff00" stroke-width="1.30" stroke-dasharray="2.9,1.0"/>
<line x1="1371.0" y1="251.8" x2="1425.5" y2="251.8" stroke="#0000ff" stroke-width="1.30" stroke-dasharray="1.5,1.4"/>
<line x1="1371.0" y1="272.6" x2="1425.5" y2="272.6" stroke="#ff00ff" stroke-width="1.30" stroke-dasharray="1,0.8"/>
<path d="M1015.0 269.5h4.5M1485.0 269.5h-4.5M1015.0 241.5h4.5M1485.0 241.5h-4.5M1015.0 213.5h4.5M1485.0 213.5h-4.5M1015.0 185.5h4.5M1485.0 185.5h-4.5M1109.00 297.5v-4.5M1109.00 157.5v4.5M1203.00 297.5v-4.5M1203.00 157.5v4.5M1297.00 297.5v-4.5M1297.00 157.5v4.5M1391.00 297.5v-4.5M1391.00 157.5v4.5" stroke="#000" stroke-width="1" fill="none"/>
<path d="M1015.0 157.5H1485.0M1015.0 297.5H1485.5M1485.0 157.5V297.5" stroke="#000" stroke-width="1" fill="none"/>
<text transform="translate(62.00,165.10) scale(1.000,1.090)" text-anchor="end">0</text>
<text transform="translate(62.00,140.60) scale(1.000,1.090)" text-anchor="end">1</text>
<text transform="translate(62.00,116.10) scale(1.000,1.090)" text-anchor="end">2</text>
<text transform="translate(62.00,91.60) scale(1.000,1.090)" text-anchor="end">3</text>
<text transform="translate(62.00,67.10) scale(1.000,1.090)" text-anchor="end">4</text>
<text transform="translate(62.00,42.60) scale(1.000,1.090)" text-anchor="end">5</text>
<text transform="translate(62.00,18.10) scale(1.000,1.090)" text-anchor="end">6</text>
<text transform="translate(62.00,305.10) scale(1.000,1.090)" text-anchor="end">0</text>
<text transform="translate(62.00,277.10) scale(1.000,1.090)" text-anchor="end">0.2</text>
<text transform="translate(62.00,249.10) scale(1.000,1.090)" text-anchor="end">0.4</text>
<text transform="translate(62.00,221.10) scale(1.000,1.090)" text-anchor="end">0.6</text>
<text transform="translate(62.00,193.10) scale(1.000,1.090)" text-anchor="end">0.8</text>
<text transform="translate(75.00,325.70) scale(1.000,1.090)" text-anchor="middle">0</text>
<text transform="translate(169.00,325.70) scale(1.000,1.090)" text-anchor="middle">2</text>
<text transform="translate(263.00,325.70) scale(1.000,1.090)" text-anchor="middle">4</text>
<text transform="translate(357.00,325.70) scale(1.000,1.090)" text-anchor="middle">6</text>
<text transform="translate(451.00,325.70) scale(1.000,1.090)" text-anchor="middle">8</text>
<text transform="translate(310.00,346.40) scale(1.000,1.090)" text-anchor="middle">U</text>
<text transform="translate(545.00,325.70) scale(1.000,1.090)" text-anchor="middle">0</text>
<text transform="translate(639.00,325.70) scale(1.000,1.090)" text-anchor="middle">2</text>
<text transform="translate(733.00,325.70) scale(1.000,1.090)" text-anchor="middle">4</text>
<text transform="translate(827.00,325.70) scale(1.000,1.090)" text-anchor="middle">6</text>
<text transform="translate(921.00,325.70) scale(1.000,1.090)" text-anchor="middle">8</text>
<text transform="translate(780.00,346.40) scale(1.000,1.090)" text-anchor="middle">U</text>
<text transform="translate(1015.00,325.70) scale(1.000,1.090)" text-anchor="middle">0</text>
<text transform="translate(1109.00,325.70) scale(1.000,1.090)" text-anchor="middle">2</text>
<text transform="translate(1203.00,325.70) scale(1.000,1.090)" text-anchor="middle">4</text>
<text transform="translate(1297.00,325.70) scale(1.000,1.090)" text-anchor="middle">6</text>
<text transform="translate(1391.00,325.70) scale(1.000,1.090)" text-anchor="middle">8</text>
<text transform="translate(1250.00,346.40) scale(1.000,1.090)" text-anchor="middle">U</text>
<text transform="translate(1485.00,325.70) scale(1.000,1.090)" text-anchor="middle">10</text>
<path d="M9.0 83.7L23.1 77.8V90.4ZM12.6 84.0L21.9 88.7V80.3Z" fill="#000" fill-rule="evenodd"/>
<text transform="translate(24,227.2) scale(1,1.090) rotate(-90)" text-anchor="middle">M</text>
<text transform="translate(99.00,42.20) scale(1.000,1.090)">(a)</text>
<text transform="translate(129.40,42.20) scale(1.220,1.090)">α</text>
<text transform="translate(148.60,42.20) scale(1.000,1.090)">=</text>
<text transform="translate(166.30,42.20) scale(1.035,1.090)">0.8,</text>
<text transform="translate(207.00,42.20) scale(1.000,1.090)">β</text>
<text transform="translate(224.30,42.20) scale(1.000,1.090)">=</text>
<text transform="translate(242.30,42.20) scale(1.035,1.090)">0.2</text>
<text transform="translate(569.00,42.20) scale(1.000,1.090)">(b)</text>
<text transform="translate(599.40,42.20) scale(1.220,1.090)">α</text>
<text transform="translate(618.60,42.20) scale(1.000,1.090)">=</text>
<text transform="translate(636.30,42.20) scale(1.035,1.090)">0.8,</text>
<text transform="translate(677.00,42.20) scale(1.000,1.090)">β</text>
<text transform="translate(694.30,42.20) scale(1.000,1.090)">=</text>
<text transform="translate(713.30,42.20) scale(1.035,1.090)">1.0</text>
<text transform="translate(1039.00,42.20) scale(1.000,1.090)">(c)</text>
<text transform="translate(1068.30,42.20) scale(1.220,1.090)">α</text>
<text transform="translate(1087.50,42.20) scale(1.000,1.090)">=</text>
<text transform="translate(1105.20,42.20) scale(1.035,1.090)">0.8,</text>
<text transform="translate(1145.90,42.20) scale(1.000,1.090)">β</text>
<text transform="translate(1163.20,42.20) scale(1.000,1.090)">=</text>
<text transform="translate(1181.20,42.20) scale(1.035,1.090)">1.5</text>
<text transform="translate(417.60,215.00) scale(1.000,1.090)" text-anchor="end">m<tspan font-size="16.3" dy="5.4">A</tspan></text>
<text transform="translate(417.60,235.90) scale(1.000,1.090)" text-anchor="end">m<tspan font-size="16.3" dy="5.4">B</tspan></text>
<text transform="translate(417.60,256.75) scale(1.000,1.090)" text-anchor="end">m<tspan font-size="16.3" dy="5.4">C</tspan></text>
<text transform="translate(417.60,277.60) scale(1.000,1.090)" text-anchor="end">m<tspan font-size="16.3" dy="5.4">D</tspan></text>
<text transform="translate(887.60,215.00) scale(1.000,1.090)" text-anchor="end">m<tspan font-size="16.3" dy="5.4">A</tspan></text>
<text transform="translate(887.60,235.90) scale(1.000,1.090)" text-anchor="end">m<tspan font-size="16.3" dy="5.4">B</tspan></text>
<text transform="translate(887.60,256.75) scale(1.000,1.090)" text-anchor="end">m<tspan font-size="16.3" dy="5.4">C</tspan></text>
<text transform="translate(887.60,277.60) scale(1.000,1.090)" text-anchor="end">m<tspan font-size="16.3" dy="5.4">D</tspan></text>
<text transform="translate(1357.60,215.00) scale(1.000,1.090)" text-anchor="end">m<tspan font-size="16.3" dy="5.4">A</tspan></text>
<text transform="translate(1357.60,235.90) scale(1.000,1.090)" text-anchor="end">m<tspan font-size="16.3" dy="5.4">B</tspan></text>
<text transform="translate(1357.60,256.75) scale(1.000,1.090)" text-anchor="end">m<tspan font-size="16.3" dy="5.4">C</tspan></text>
<text transform="translate(1357.60,277.60) scale(1.000,1.090)" text-anchor="end">m<tspan font-size="16.3" dy="5.4">D</tspan></text>
<text transform="translate(94.20,89.30) scale(1.000,1.090)">U<tspan font-size="16.3" dy="5.4">MI</tspan></text>
<path d="M103.4 96.3V144.0" stroke="#000" stroke-width="1" fill="none"/><path d="M101.00 136.80L103.40 144.50L105.80 136.80" stroke="#000" stroke-width="1.25" fill="none" stroke-linejoin="miter"/>
<text transform="translate(85.00,191.20) scale(1.000,1.090)">U<tspan font-size="16.3" dy="5.4">M</tspan></text>
<path d="M97.0 198.8V282.3" stroke="#000" stroke-width="1" fill="none"/><path d="M94.60 275.10L97.00 282.80L99.40 275.10" stroke="#000" stroke-width="1.25" fill="none" stroke-linejoin="miter"/>
<text transform="translate(127.00,217.60) scale(1.000,1.090)">U<tspan font-size="16.3" dy="5.4">vH</tspan></text>
<path d="M122 213.5H103.2V263" stroke="#000" fill="none"/>
<path d="M103.2 250.0V261.0" stroke="#000" stroke-width="1" fill="none"/><path d="M100.80 253.80L103.20 261.50L105.60 253.80" stroke="#000" stroke-width="1.25" fill="none" stroke-linejoin="miter"/>
<text transform="translate(743.20,89.30) scale(1.000,1.090)">U<tspan font-size="16.3" dy="5.4">MI</tspan></text>
<path d="M751.8 96.3V144.0" stroke="#000" stroke-width="1" fill="none"/><path d="M749.40 136.80L751.80 144.50L754.20 136.80" stroke="#000" stroke-width="1.25" fill="none" stroke-linejoin="miter"/>
<text transform="translate(602.00,233.00) scale(1.000,1.090)">U<tspan font-size="16.3" dy="5.4">M</tspan></text>
<path d="M638 227.5H685.5V284" stroke="#000" fill="none"/>
<path d="M685.5 270.0V282.4" stroke="#000" stroke-width="1" fill="none"/><path d="M683.10 275.20L685.50 282.90L687.90 275.20" stroke="#000" stroke-width="1.25" fill="none" stroke-linejoin="miter"/>
<text transform="translate(686.00,205.00) scale(1.000,1.090)">U<tspan font-size="16.3" dy="5.4">vH</tspan></text>
<path d="M695.5 213.0V261.0" stroke="#000" stroke-width="1" fill="none"/><path d="M693.10 253.80L695.50 261.50L697.90 253.80" stroke="#000" stroke-width="1.25" fill="none" stroke-linejoin="miter"/>
<text transform="translate(1147.00,89.30) scale(1.000,1.090)">U<tspan font-size="16.3" dy="5.4">MI</tspan></text>
<path d="M1156.0 96.3V144.0" stroke="#000" stroke-width="1" fill="none"/><path d="M1153.60 136.80L1156.00 144.50L1158.40 136.80" stroke="#000" stroke-width="1.25" fill="none" stroke-linejoin="miter"/>
<text transform="translate(1069.00,233.00) scale(1.000,1.090)">U<tspan font-size="16.3" dy="5.4">M</tspan></text>
<path d="M1106 227.5H1153.5V284" stroke="#000" fill="none"/>
<path d="M1153.5 270.0V282.4" stroke="#000" stroke-width="1" fill="none"/><path d="M1151.10 275.20L1153.50 282.90L1155.90 275.20" stroke="#000" stroke-width="1.25" fill="none" stroke-linejoin="miter"/>
<text transform="translate(1152.00,205.00) scale(1.000,1.090)">U<tspan font-size="16.3" dy="5.4">vH</tspan></text>
<path d="M1160.5 213.0V261.0" stroke="#000" stroke-width="1" fill="none"/><path d="M1158.10 253.80L1160.50 261.50L1162.90 253.80" stroke="#000" stroke-width="1.25" fill="none" stroke-linejoin="miter"/>
</g></svg>
</body></html>
